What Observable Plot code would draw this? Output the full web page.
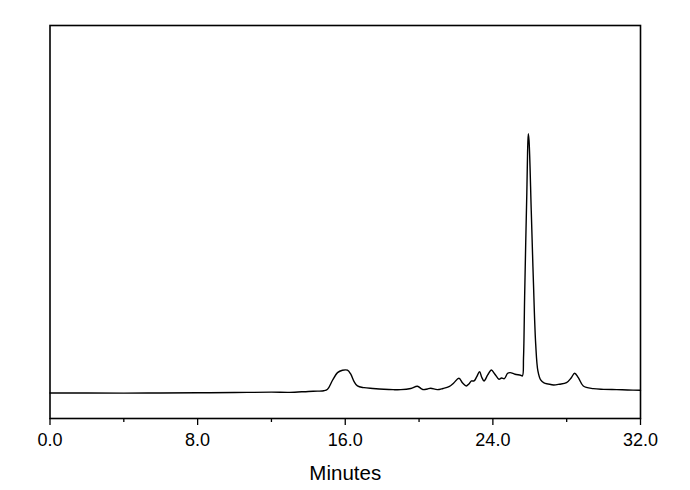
<!DOCTYPE html>
<html>
<head>
<meta charset="utf-8">
<script src="https://cdn.jsdelivr.net/npm/d3@7"></script>
<script src="https://cdn.jsdelivr.net/npm/@observablehq/plot@0.6"></script>
<style>
  html, body { margin: 0; padding: 0; background: #fff; }
  #chart { width: 690px; height: 490px; }
</style>
</head>
<body>
<div id="chart"></div>
<script>
// Retention time (minutes)
const times = [0, 2, 4, 6, 8, 10, 12, 13, 14, 14.5, 14.84, 15.04, 15.31, 15.58, 15.85, 16.12, 16.30, 16.48, 16.66, 17.02, 17.5, 18.09, 18.6, 19.01, 19.55, 19.91, 20.14, 20.25, 20.45, 20.63, 20.99, 21.3, 21.62, 21.88, 22.16, 22.36, 22.56, 22.7, 22.84, 22.98, 23.12, 23.28, 23.39, 23.52, 23.72, 23.92, 24.1, 24.33, 24.47, 24.62, 24.8, 24.94, 25.2, 25.5, 25.6, 25.66, 25.72, 25.78, 25.84, 25.88, 25.92, 25.96, 26.08, 26.19, 26.32, 26.44, 26.59, 26.77, 27.0, 27.29, 27.6, 27.99, 28.24, 28.43, 28.63, 28.9, 29.44, 30.0, 30.71, 31.3, 32];
// Detector signal (arbitrary units)
const signal = [0, 0, -0.2, 0, 0.2, 0.4, 0.8, 0.6, 1.5, 1.8, 2.2, 3.7, 12.7, 20.3, 22.7, 22.7, 18.7, 11.3, 7, 5.3, 4.5, 3.7, 3.3, 3.3, 4.5, 6.7, 4, 3.3, 4, 4.7, 3.3, 4.5, 6.3, 10, 14.7, 10, 7, 9, 12, 12, 16, 21.3, 16, 12, 18, 23, 19, 13.7, 15, 14.3, 19.7, 20.3, 18.7, 17.7, 17, 35, 95, 150, 200, 240, 259, 252, 182, 115, 49, 22, 13, 10, 9, 8, 8.7, 10.3, 15, 19.7, 15.3, 7, 4.3, 3.6, 3.3, 3, 2.7];
// Axis ticks
const majorTicks = [0, 8, 16, 24, 32];
const minorTicks = [4, 12, 20, 28];
const xLabel = "Minutes";

const data = times.map((t, i) => ({t, v: signal[i]}));

const chart = Plot.plot({
  width: 690,
  height: 490,
  marginLeft: 49.5,
  marginRight: 50,
  marginTop: 25,
  marginBottom: 72,
  style: {fontFamily: "'Liberation Sans', Arial, sans-serif", background: "#fff", color: "#000"},
  x: {domain: [0, 32], label: null},
  y: {domain: [-25.5, 367], axis: null},
  marks: [
    Plot.axisX(minorTicks, {tickSize: 4, tickFormat: () => "", label: null, stroke: "#000", strokeWidth: 1.3}),
    Plot.axisX(majorTicks, {tickSize: 7, tickPadding: 8, tickFormat: d3.format(".1f"), fontSize: 18, stroke: "#000", strokeWidth: 1.3, label: null}),
    Plot.line(data, {x: "t", y: "v", curve: "catmull-rom", stroke: "#000", strokeWidth: 1.4}),
    Plot.frame({stroke: "#000", strokeWidth: 1.6}),
    Plot.text([xLabel], {frameAnchor: "bottom", lineAnchor: "top", dy: 47, fontSize: 20.5, fill: "#000"})
  ]
});
document.getElementById("chart").appendChild(chart);
</script>
</body>
</html>
